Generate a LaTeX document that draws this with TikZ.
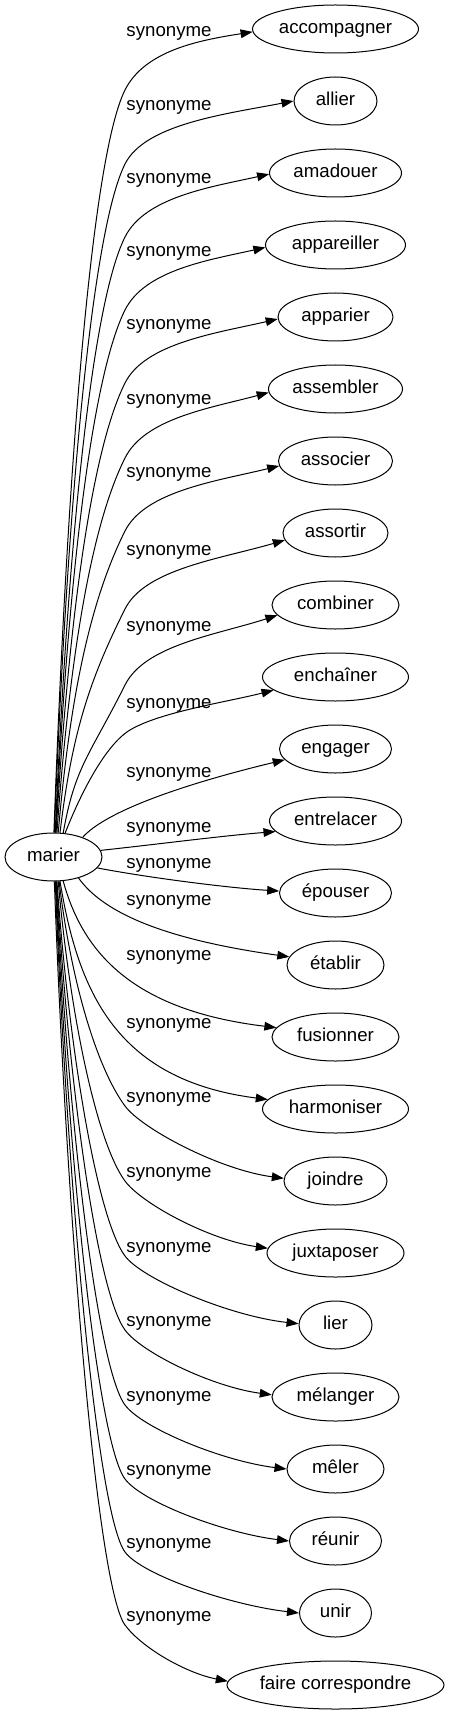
\documentclass[tikz,border=0pt]{standalone}
\usepackage{fontspec}
\setmainfont{Liberation Sans}
\usetikzlibrary{shapes.geometric,arrows.meta}
\begin{document}
\begin{tikzpicture}[x=0.75pt,y=-0.75pt,
  every node/.style={font=\fontsize{14pt}{16pt}\selectfont, text height=10pt, text depth=3pt},
  wd/.style={ellipse, draw, line width=0.75pt, minimum height=36pt, inner sep=0pt, minimum width=#1*0.75pt},
  lbl/.style={inner sep=0pt},
  syn/.style={line width=0.75pt, -{Triangle[length=9pt,width=6.5pt]}}]
\useasboundingbox (0,0) rectangle (449,1715);
% nodes
\node[wd=97]  (marier) at (53.5,857) {marier};
\node[wd=166] (n0)  at (335.5,29)   {accompagner};
\node[wd=83]  (n1)  at (335.5,101)  {allier};
\node[wd=132] (n2)  at (335.5,173)  {amadouer};
\node[wd=140] (n3)  at (335.5,245)  {appareiller};
\node[wd=115] (n4)  at (335.5,317)  {apparier};
\node[wd=134] (n5)  at (335.5,389)  {assembler};
\node[wd=114] (n6)  at (335.5,461)  {associer};
\node[wd=105] (n7)  at (335.5,533)  {assortir};
\node[wd=127] (n8)  at (335.5,605)  {combiner};
\node[wd=146] (n9)  at (335.5,677)  {enchaîner};
\node[wd=112] (n10) at (335.5,749)  {engager};
\node[wd=132] (n11) at (335.5,821)  {entrelacer};
\node[wd=112] (n12) at (335.5,893)  {épouser};
\node[wd=97]  (n13) at (335.5,965)  {établir};
\node[wd=127] (n14) at (335.5,1037) {fusionner};
\node[wd=146] (n15) at (335.5,1109) {harmoniser};
\node[wd=103] (n16) at (335.5,1181) {joindre};
\node[wd=137] (n17) at (335.5,1253) {juxtaposer};
\node[wd=73]  (n18) at (335.5,1325) {lier};
\node[wd=127] (n19) at (335.5,1397) {mélanger};
\node[wd=97]  (n20) at (335.5,1469) {mêler};
\node[wd=92]  (n21) at (335.5,1541) {réunir};
\node[wd=72]  (n22) at (335.5,1613) {unir};
\node[wd=217] (n23) at (335.5,1685) {faire correspondre};
% labels
\node[lbl] (l0)  at (169,32)   {synonyme};
\node[lbl] (l1)  at (169,106)  {synonyme};
\node[lbl] (l2)  at (169,179)  {synonyme};
\node[lbl] (l3)  at (169,252)  {synonyme};
\node[lbl] (l4)  at (169,325)  {synonyme};
\node[lbl] (l5)  at (169,400)  {synonyme};
\node[lbl] (l6)  at (169,473)  {synonyme};
\node[lbl] (l7)  at (169,551)  {synonyme};
\node[lbl] (l8)  at (169,627)  {synonyme};
\node[lbl] (l9)  at (169,704)  {synonyme};
\node[lbl] (l10) at (169,773)  {synonyme};
\node[lbl] (l11) at (169,828)  {synonyme};
\node[lbl] (l12) at (169,864)  {synonyme};
\node[lbl] (l13) at (169,901)  {synonyme};
\node[lbl] (l14) at (169,956)  {synonyme};
\node[lbl] (l15) at (169,1024) {synonyme};
\node[lbl] (l16) at (169,1098) {synonyme};
\node[lbl] (l17) at (169,1173) {synonyme};
\node[lbl] (l18) at (169,1248) {synonyme};
\node[lbl] (l19) at (169,1322) {synonyme};
\node[lbl] (l20) at (169,1397) {synonyme};
\node[lbl] (l21) at (169,1471) {synonyme};
\node[lbl] (l22) at (169,1544) {synonyme};
\node[lbl] (l23) at (169,1617) {synonyme};
% edges
\draw[syn] (marier.89) .. controls (66,499) and (90,160) .. (125,90) .. controls (145,50) and (201,40) .. (n0.182);
\draw[syn] (marier.88) .. controls (66,532) and (90,234) .. (125,164) .. controls (145,124) and (226,114) .. (n1.180);
\draw[syn] (marier.86) .. controls (67,565) and (90,307) .. (125,237) .. controls (145,197) and (211,187) .. (n2.181);
\draw[syn] (marier.85) .. controls (67,598) and (90,380) .. (125,310) .. controls (145,270) and (209,260) .. (n3.182);
\draw[syn] (marier.84) .. controls (68,631) and (90,453) .. (125,383) .. controls (145,343) and (217,333) .. (n4.182);
\draw[syn] (marier.82) .. controls (69,664) and (90,528) .. (125,458) .. controls (145,418) and (211,408) .. (n5.183);
\draw[syn] (marier.79) .. controls (70,697) and (90,601) .. (125,531) .. controls (145,491) and (217,481) .. (n6.185);
\draw[syn] (marier.75) .. controls (72,732) and (90,679) .. (125,609) .. controls (145,569) and (220,559) .. (n7.188);
\draw[syn] (marier.68) .. controls (75,766) and (90,755) .. (125,685) .. controls (145,645) and (216,635) .. (n8.190);
\draw[syn] (marier.64) .. controls (80,795) and (105,745) .. (130,730) .. controls (160,712) and (227,702) .. (n9.192);
\draw[syn] (marier.34) .. controls (105,812) and (180,785) .. (n10.192);
\draw[syn] (marier.8) .. controls (160,844) and (220,836) .. (n11.190);
\draw[syn] (marier.346) .. controls (150,878) and (230,888) .. (n12.178);
\draw[syn] (marier.320) .. controls (105,915) and (170,940) .. (n13.170);
\draw[syn] (marier.292) .. controls (82,950) and (130,1010) .. (n14.171);
\draw[syn] (marier.285) .. controls (78,990) and (115,1080) .. (n15.172);
\draw[syn] (marier.283) .. controls (71,982) and (97,1068) .. (125,1106) .. controls (142,1129) and (220,1170) .. (n16.177);
\draw[syn] (marier.281) .. controls (70,1016) and (97,1143) .. (125,1181) .. controls (142,1204) and (210,1240) .. (n17.176);
\draw[syn] (marier.278) .. controls (69,1050) and (97,1218) .. (125,1256) .. controls (142,1279) and (229,1316) .. (n18.178);
\draw[syn] (marier.277) .. controls (68.5,1083) and (97,1292) .. (125,1330) .. controls (142,1353) and (213,1387) .. (n19.178);
\draw[syn] (marier.276) .. controls (68,1117) and (97,1367) .. (125,1405) .. controls (142,1428) and (222,1461) .. (n20.180);
\draw[syn] (marier.275) .. controls (67.5,1150) and (97,1441) .. (125,1479) .. controls (142,1502) and (224,1533) .. (n21.180);
\draw[syn] (marier.274) .. controls (67,1183) and (97,1514) .. (125,1552) .. controls (142,1575) and (230,1605) .. (n22.180);
\draw[syn] (marier.272) .. controls (66.5,1216) and (97,1587) .. (125,1625) .. controls (142,1648) and (186,1673) .. (n23.178);
\end{tikzpicture}
\end{document}
